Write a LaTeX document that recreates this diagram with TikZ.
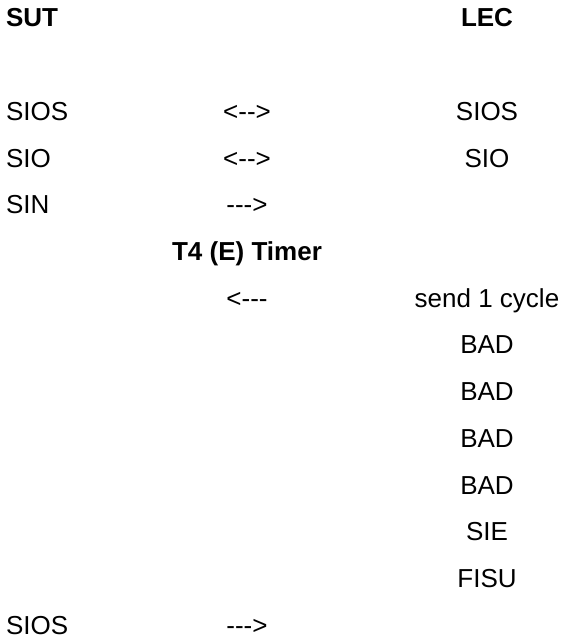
\documentclass[tikz,border=0pt]{standalone}
\usepackage{fontspec}
\setmainfont{Liberation Sans}
% a single hyphen kept apart so that runs of hyphens stay hyphens
\newcommand\hy{\mbox{-}}
\begin{document}
\begin{tikzpicture}[x=1pt, y=-1pt,
  every node/.style={inner sep=0pt, outer sep=0pt, font=\fontsize{26}{30}\selectfont},
  lefttxt/.style={anchor=base west},
  midtxt/.style={anchor=base},
  righttxt/.style={anchor=base},
  headtxt/.style={font=\fontsize{26}{30}\selectfont\bfseries}]
  \useasboundingbox (0,0) rectangle (563,639);
  % column positions and row pitch
  \def\cl{6}\def\cm{247}\def\cr{487}
  \def\rowy#1{27+46.7*#1}
  % headings
  \node[lefttxt, headtxt] (sut) at (\cl, {\rowy{0}}) {SUT};
  \node[righttxt, headtxt] (lec) at (\cr, {\rowy{0}}) {LEC};
  % alignment exchange
  \node[lefttxt] (s1) at (\cl, {\rowy{2}}) {SIOS};
  \node[midtxt] (m1) at (\cm, {\rowy{2}}) {<\hy\hy>};
  \node[righttxt] (r1) at (\cr, {\rowy{2}}) {SIOS};
  \node[lefttxt] (s2) at (\cl, {\rowy{3}}) {SIO};
  \node[midtxt] (m2) at (\cm, {\rowy{3}}) {<\hy\hy>};
  \node[righttxt] (r2) at (\cr, {\rowy{3}}) {SIO};
  \node[lefttxt] (s3) at (\cl, {\rowy{4}}) {SIN};
  \node[midtxt] (m3) at (\cm, {\rowy{4}}) {\hy\hy\hy>};
  % timer
  \node[midtxt, headtxt] (tim) at (\cm, {\rowy{5}}) {T4 (E) Timer};
  \node[midtxt] (m4) at (\cm, {\rowy{6}}) {<\hy\hy\hy};
  \node[righttxt] (r3) at (\cr, {\rowy{6}}) {send 1 cycle};
  \node[righttxt] (r4) at (\cr, {\rowy{7}}) {BAD};
  \node[righttxt] (r5) at (\cr, {\rowy{8}}) {BAD};
  \node[righttxt] (r6) at (\cr, {\rowy{9}}) {BAD};
  \node[righttxt] (r7) at (\cr, {\rowy{10}}) {BAD};
  \node[righttxt] (r8) at (\cr, {\rowy{11}}) {SIE};
  \node[righttxt] (r9) at (\cr, {\rowy{12}}) {FISU};
  % final status
  \node[lefttxt] (s4) at (\cl, {\rowy{13}}) {SIOS};
  \node[midtxt] (m5) at (\cm, {\rowy{13}}) {\hy\hy\hy>};
\end{tikzpicture}
\end{document}
